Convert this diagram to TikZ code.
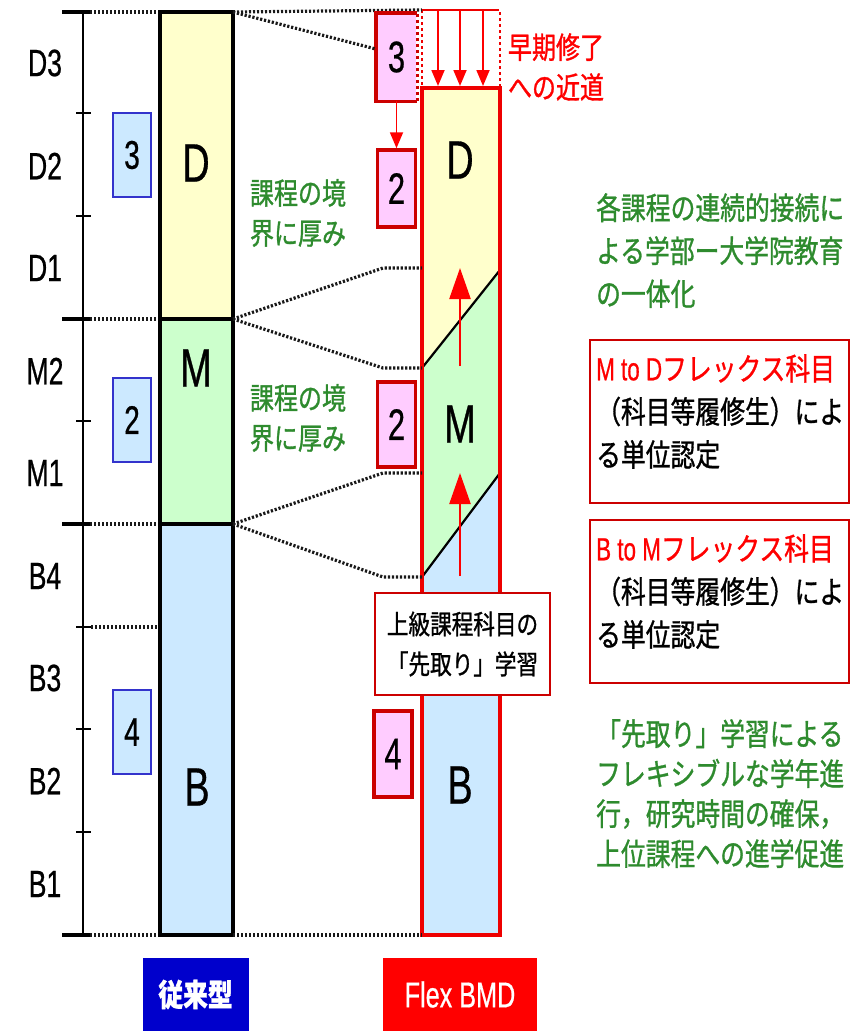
\documentclass[tikz,border=0pt]{standalone}
\usepackage{fontspec}
\setmainfont{Liberation Sans}[FakeStretch=0.7, FakeBold=0.6]
\newfontfamily\jp{Noto Sans CJK JP}[FakeStretch=0.8, FakeBold=1]
\usetikzlibrary{arrows.meta}
\definecolor{cy}{HTML}{FFFFCC}
\definecolor{cg}{HTML}{CCFFCC}
\definecolor{cb}{HTML}{CCE9FF}
\definecolor{cpink}{HTML}{FFCCFF}
\definecolor{dred}{HTML}{CC0000}
\definecolor{bred}{HTML}{EE0000}
\definecolor{tgreen}{HTML}{2E8B2E}
\definecolor{bblue}{HTML}{3333CC}
\definecolor{navy}{HTML}{0000CC}
\tikzset{
 lbl/.style={font=\fontsize{38}{42}\selectfont, inner sep=0},
 big/.style={font=\fontsize{54}{58}\selectfont, inner sep=0},
 oldnum/.style={draw=bblue, fill=cb, line width=1.4, minimum width=38, minimum height=84, inner sep=0, font=\fontsize{40}{44}\selectfont},
 newnum/.style={draw=dred, fill=cpink, line width=3.5, minimum width=38, inner sep=0, font=\fontsize{44}{48}\selectfont},
 dots/.style={line width=3.2, dash pattern=on 2.2pt off 1.8pt, black!90},
 jtxt/.style={font=\jp\fontsize{30}{40}\selectfont, inner sep=0, align=left},
 rtxt/.style={font=\jp\fontsize{31}{43}\selectfont, inner sep=0, align=left, anchor=north west},
 tick/.style={line width=2},
 major/.style={line width=3.8},
 redarrow/.style={red, line width=1.8, -{Triangle[width=13,length=16]}},
 uparrow/.style={red, line width=2.4, -{Triangle[width=21,length=31]}},
 infobox/.style={draw=dred, line width=2, fill=white},
}
\begin{document}
\begin{tikzpicture}[x=1pt,y=-1pt]
\useasboundingbox (0,0) rectangle (851,1031);
\fill[white] (0,0) rectangle (851,1031);

% ---- left axis
\draw[tick] (83,12) -- (83,935);
\foreach \y in {113,216,421,729,832} \draw[tick] (76,\y) -- (91,\y);
\foreach \y in {12,319,524,935} {\draw[major] (62,\y) -- (90,\y); \draw[dots] (90,\y) -- (160,\y);}
\draw[tick] (76,627) -- (91,627); \draw[dots] (91,627) -- (160,627);
\foreach \t/\y in {D3/63,D2/166,D1/268,M2/371,M1/473,B4/576,B3/678,B2/781,B1/884}
  \node[lbl] (row\t) at (45,\y) {\t};

% ---- conventional bar
\fill[cy] (160,12) rectangle (233,319);
\fill[cg] (160,319) rectangle (233,524);
\fill[cb] (160,524) rectangle (233,935);
\draw[major] (160,12) rectangle (233,935);
\draw[major] (160,319) -- (233,319);
\draw[major] (160,524) -- (233,524);
\coordinate (oT) at (233,12);
\coordinate (oDM) at (233,319);
\coordinate (oMB) at (233,524);
\coordinate (oB) at (233,935);
\node[big] (oD) at (196,163) {D};
\node[big] (oM) at (196,368) {M};
\node[big] (oBl) at (197,787) {B};
\node[oldnum] (o3) at (132,155) {3};
\node[oldnum] (o2) at (132,420) {2};
\node[oldnum] (o4) at (132,732) {4};

% ---- Flex BMD bar
\fill[cy] (422,88) -- (500,88) -- (500,270) -- (422,368) -- cycle;
\fill[cg] (422,368) -- (500,270) -- (500,473) -- (422,577) -- cycle;
\fill[cb] (422,577) -- (500,473) -- (500,935) -- (422,935) -- cycle;
\coordinate (fDMa) at (422,268);
\coordinate (fDMb) at (422,368);
\coordinate (fMBa) at (422,473);
\coordinate (fMBb) at (422,577);
\coordinate (fB) at (422,935);
\coordinate (dR1) at (500,270);
\coordinate (dR2) at (500,473);
\draw[line width=2.2] (fDMb) -- (dR1);
\draw[line width=2.2] (fMBb) -- (dR2);
\draw[bred, line width=3.2] (422,88) rectangle (500,935);
\node[big] (fD) at (460,160) {D};
\node[big] (fM) at (460,424) {M};
\node[big] (fBl) at (460,785) {B};
% up arrows
\coordinate (ua1s) at (460,366); \coordinate (ua1e) at (460,268);
\coordinate (ua2s) at (460,576); \coordinate (ua2e) at (460,473);
\draw[uparrow] (ua1s) -- (ua1e);
\draw[uparrow] (ua2s) -- (ua2e);

% top dashed block with arrows
\draw[bred, line width=2.2] (422,10) -- (496,10);
\draw[bred, line width=2.2, dashed] (496,10) -- (500,10) -- (500,88);
\draw[bred, line width=2.2, dashed] (422,10) -- (422,88);
\foreach \x [count=\i] in {438,460,483} {
  \coordinate (ta\i) at (\x,10); \coordinate (tb\i) at (\x,86);
  \draw[redarrow] (ta\i) -- (tb\i);
}

% dotted connectors
\coordinate (p3top) at (422,10);
\draw[dots] (oT) -- (p3top);
\draw[dots] (oDM) -- (383,268) -- (fDMa);
\draw[dots] (oDM) -- (383,368) -- (fDMb);
\draw[dots] (oMB) -- (383,473) -- (fMBa);
\draw[dots] (oMB) -- (383,577) -- (fMBb);
\draw[dots] (oB) -- (fB);

% pink boxes
\node[newnum, draw=none, minimum height=85] (p3) at (396.5,57) {3};
\draw[dred, line width=3.5] (p3.north east) -- (p3.north west) -- (p3.south west) -- (p3.south east);
\draw[dred, line width=2.5, dashed] (p3.south east) -- (p3.north east);
\draw[dots] (oT) -- ([yshift=8]p3.west);
\node[newnum, minimum height=77] (p2a) at (396.5,188.5) {2};
\node[newnum, minimum height=85] (p2b) at (396.5,424.5) {2};
\node[newnum, minimum height=86] (p4) at (393,754) {4};
\draw[redarrow] (p3.south) -- (p2a.north);

% green labels
\node[jtxt, text=tgreen] (g1) at (298,213) {課程の境\\界に厚み};
\node[jtxt, text=tgreen] (g2) at (298,418) {課程の境\\界に厚み};
\node[jtxt, text=red] (early) at (556,67) {早期修了\\への近道};

% advance-learning box
\node[infobox, minimum width=175, minimum height=102, align=center, inner sep=0,
      font=\jp\fontsize{27}{40}\selectfont] (adv) at (462.5,644) {上級課程科目の\\「先取り」学習};

% right column
\node[rtxt, text=tgreen] (rt1) at (596,193) {各課程の連続的接続に\\よる学部ー大学院教育\\の一体化};
\draw[infobox] (590,340) rectangle (849,503);
\node[rtxt] (rt2) at (596,354) {\textcolor{red}{{\rmfamily\fontsize{32}{43}\selectfont M to D}フレックス科目}\\（科目等履修生）によ\\る単位認定};
\draw[infobox] (590,520) rectangle (849,683);
\node[rtxt] (rt3) at (596,534) {\textcolor{red}{{\rmfamily\fontsize{32}{43}\selectfont B to M}フレックス科目}\\（科目等履修生）によ\\る単位認定};
\node[rtxt, font=\jp\fontsize{31}{40}\selectfont, text=tgreen] (rt4) at (596,719) {「先取り」学習による\\フレキシブルな学年進\\行，研究時間の確保，\\上位課程への進学促進};

% bottom labels
\node[fill=navy, text=white, minimum width=106, minimum height=73, inner sep=0,
      font=\jp\bfseries\fontsize{31}{36}\selectfont] (lold) at (195.5,994.5) {従来型};
\node[fill=red, text=white, minimum width=154, minimum height=73, inner sep=0,
      font=\fontsize{36}{40}\selectfont] (lnew) at (460,994.5) {Flex BMD};
\end{tikzpicture}
\end{document}
